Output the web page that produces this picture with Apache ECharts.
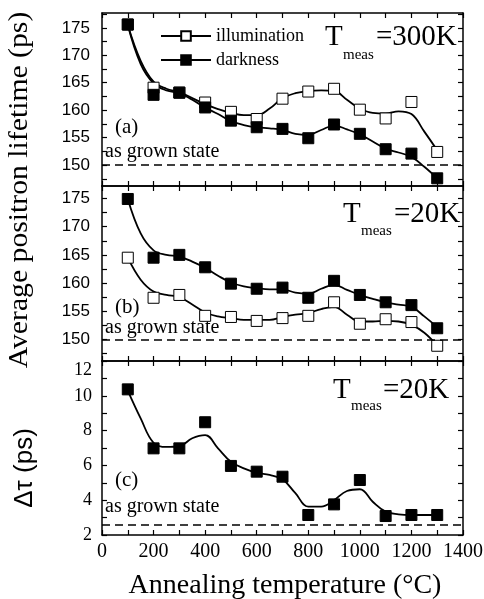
<!DOCTYPE html>
<html>
<head>
<meta charset="utf-8">
<script src="https://cdn.jsdelivr.net/npm/echarts@6/dist/echarts.min.js"></script>
<style>
  html, body { margin: 0; padding: 0; background: #fff; }
  #chart { width: 484px; height: 599px; }
</style>
</head>
<body>
<div id="chart"></div>
<script>
// measured points (annealing temperature, °C)
const temps = [100, 200, 300, 400, 500, 600, 700, 800, 900, 1000, 1100, 1200, 1300]

// (a) Tmeas = 300K
const illum300 = [175.6, 164.1, 163.2, 161.4, 159.7, 158.4, 162.1, 163.4, 163.9, 160.1, 158.5, 161.5, 152.4]
const dark300 = [175.6, 162.8, 163.2, 160.5, 158.1, 156.9, 156.6, 154.9, 157.4, 155.7, 152.9, 152.1, 147.6]
// (b) Tmeas = 20K
const illum20 = [164.5, 157.4, 157.9, 154.2, 154.0, 153.3, 153.8, 154.2, 156.6, 152.8, 153.6, 153.1, 148.9]
const dark20 = [174.9, 164.5, 165.0, 162.8, 159.9, 159.0, 159.2, 157.4, 160.4, 157.9, 156.6, 156.1, 152.0]
// (c) delta tau
const deltaTau = [10.37, 6.98, 6.98, 8.48, 5.97, 5.64, 5.35, 3.15, 3.76, 5.16, 3.09, 3.15, 3.15]

// smooth guide curves, every 50 °C
const fitTemps = [100, 150, 200, 250, 300, 350, 400, 450, 500, 550, 600, 650, 700,
  750, 800, 850, 900, 950, 1000, 1050, 1100, 1150, 1200, 1250, 1300]
const illum300Fit = [175.5, 169.0, 165.2, 163.9, 163.3, 162.2, 161.1, 160.2, 159.5, 159.1, 159.1, 160.3, 162.2,
  163.1, 163.5, 163.6, 163.5, 161.9, 160.3, 159.5, 159.4, 159.8, 159.3, 156.1, 152.7]
const dark300Fit = [175.5, 168.4, 164.9, 163.6, 163.1, 161.9, 160.5, 159.3, 158.0, 157.3, 156.9, 156.7, 156.4,
  155.7, 155.5, 156.4, 157.2, 156.5, 155.6, 154.3, 153.0, 152.3, 151.5, 149.7, 147.6]
const illum20Fit = [164.5, 160.6, 158.5, 157.9, 157.5, 156.2, 154.8, 154.1, 153.8, 153.5, 153.5, 153.5, 154.0,
  154.4, 154.7, 155.4, 155.8, 154.4, 153.2, 153.2, 153.3, 153.2, 152.6, 151.2, 148.9]
const dark20Fit = [174.9, 168.8, 165.8, 165.0, 164.7, 163.8, 162.7, 161.3, 160.1, 159.4, 159.1, 158.9, 158.9,
  158.3, 158.1, 159.0, 159.7, 158.8, 157.9, 157.2, 156.6, 156.2, 155.8, 154.1, 152.2]
const deltaTauFit = [10.3, 8.7, 7.3, 7.06, 7.1, 7.56, 7.74, 6.98, 6.21, 5.83, 5.58, 5.45, 5.2,
  4.4, 3.63, 3.63, 4.01, 4.53, 4.63, 3.91, 3.34, 3.19, 3.15, 3.15, 3.15]

// "as grown state" reference levels for (a), (b), (c)
const asGrown = [150, 150, 2.6]

// axis ticks and labels
const xTicks = [0, 100, 200, 300, 400, 500, 600, 700, 800, 900, 1000, 1100, 1200, 1300, 1400]
const xLabels = [0, 200, 400, 600, 800, 1000, 1200, 1400]
const lifetimeTicks = [147.5, 150, 152.5, 155, 157.5, 160, 162.5, 165, 167.5, 170, 172.5, 175, 177.5]
const lifetimeLabels = [150, 155, 160, 165, 170, 175]
const dtauTicks = [2, 3, 4, 5, 6, 7, 8, 9, 10, 11, 12]
const dtauLabels = [2, 4, 6, 8, 10, 12]

const SERIF = '"Liberation Serif", "Times New Roman", serif'
const SANS = '"Liberation Sans", Arial, sans-serif'

const frameLine = { color: '#000', width: 1.5 }
const tickLine = { color: '#000', width: 1.2 }

function pairs(xs, ys) {
  return xs.map((x, i) => [x, ys[i]])
}

function xAxisFor(gridIndex, position, showLabels) {
  return {
    type: 'value',
    gridIndex,
    position,
    min: 0,
    max: 1400,
    axisLine: { show: true, onZero: false, lineStyle: frameLine },
    axisTick: { show: true, inside: true, length: 5, customValues: xTicks, lineStyle: tickLine },
    axisLabel: {
      show: showLabels,
      customValues: xLabels,
      formatter: v => String(v),
      margin: 7,
      fontFamily: SERIF,
      fontSize: 20,
      color: '#000'
    },
    splitLine: { show: false }
  }
}

function yAxisFor(gridIndex, position, min, max, ticks, labels, font, showLabels) {
  const axis = {
    type: 'value',
    gridIndex,
    position,
    min,
    max,
    axisLine: { show: true, onZero: false, lineStyle: frameLine },
    axisTick: { show: true, inside: true, length: 5, customValues: ticks, lineStyle: tickLine },
    axisLabel: {
      show: showLabels,
      customValues: labels,
      formatter: v => String(v),
      margin: font === SANS ? 12 : 10,
      fontFamily: font,
      fontSize: font === SANS ? 17 : 18,
      color: '#000'
    },
    splitLine: { show: false }
  }
  // the top label of the serif panel sits just under the frame
  if (font === SERIF) axis.axisLabel.verticalAlignMaxLabel = 'top'
  return axis
}

function markStyle(open) {
  return open
    ? { color: '#fff', borderColor: '#000', borderWidth: 1, opacity: 1 }
    : { color: '#000', borderColor: '#000', borderWidth: 1, opacity: 1 }
}

function fitSeries(name, idx, values, open, baseLevel) {
  const s = {
    name,
    type: 'line',
    xAxisIndex: idx,
    yAxisIndex: idx,
    data: pairs(fitTemps, values),
    smooth: 0.4,
    showSymbol: false,
    symbol: 'rect',
    lineStyle: { color: '#000', width: 1.8 },
    itemStyle: markStyle(open),
    silent: true,
    z: 2
  }
  if (baseLevel !== undefined) {
    s.markLine = {
      silent: true,
      symbol: 'none',
      label: { show: false },
      lineStyle: { color: '#000', width: 1.5, type: [8, 5] },
      data: [{ yAxis: baseLevel }]
    }
  }
  return s
}

function pointSeries(name, idx, values, open) {
  return {
    name,
    type: 'scatter',
    xAxisIndex: idx,
    yAxisIndex: idx,
    data: pairs(temps, values),
    symbol: 'rect',
    symbolSize: 11,
    itemStyle: markStyle(open),
    emphasis: { disabled: true },
    z: 3
  }
}

function txt(text, x, y, size, family, extra) {
  return Object.assign({
    type: 'text',
    x,
    y,
    silent: true,
    style: {
      text,
      fontSize: size,
      fontFamily: family,
      fill: '#000',
      align: 'left',
      textAlign: 'left',
      verticalAlign: 'middle',
      textVerticalAlign: 'middle'
    }
  }, extra || {})
}

function centered(el) {
  el.style.align = 'center'
  el.style.textAlign = 'center'
  return el
}

const chart = echarts.init(document.getElementById('chart'), null, { renderer: 'canvas' })

const option = {
  animation: false,
  backgroundColor: '#fff',
  grid: [
    { left: 102, right: 21, top: 13, height: 173, containLabel: false, outerBoundsMode: 'none' },
    { left: 102, right: 21, top: 186, height: 175, containLabel: false, outerBoundsMode: 'none' },
    { left: 102, right: 21, top: 361, height: 174, containLabel: false, outerBoundsMode: 'none' }
  ],
  xAxis: [
    xAxisFor(0, 'bottom', false), xAxisFor(0, 'top', false),
    xAxisFor(1, 'bottom', false), xAxisFor(1, 'top', false),
    xAxisFor(2, 'bottom', true), xAxisFor(2, 'top', false)
  ],
  yAxis: [
    yAxisFor(0, 'left', 146.2, 177.7, lifetimeTicks, lifetimeLabels, SANS, true),
    yAxisFor(0, 'right', 146.2, 177.7, lifetimeTicks, lifetimeLabels, SANS, false),
    yAxisFor(1, 'left', 146.2, 177.2, lifetimeTicks, lifetimeLabels, SANS, true),
    yAxisFor(1, 'right', 146.2, 177.2, lifetimeTicks, lifetimeLabels, SANS, false),
    yAxisFor(2, 'left', 2, 12, dtauTicks, dtauLabels, SERIF, true),
    yAxisFor(2, 'right', 2, 12, dtauTicks, dtauLabels, SERIF, false)
  ],
  legend: {
    data: ['illumination', 'darkness'],
    orient: 'vertical',
    left: 160,
    top: 27,
    itemWidth: 50,
    itemHeight: 12,
    itemGap: 6,
    padding: 0,
    selectedMode: false,
    textStyle: { fontFamily: SERIF, fontSize: 18, color: '#000' }
  },
  series: [
    fitSeries('illumination', 0, illum300Fit, true),
    fitSeries('darkness', 0, dark300Fit, false, asGrown[0]),
    pointSeries('illumination (a)', 0, illum300, true),
    pointSeries('darkness (a)', 0, dark300, false),

    fitSeries('illumination (b) fit', 2, illum20Fit, true),
    fitSeries('darkness (b) fit', 2, dark20Fit, false, asGrown[1]),
    pointSeries('illumination (b)', 2, illum20, true),
    pointSeries('darkness (b)', 2, dark20, false),

    fitSeries('delta tau fit', 4, deltaTauFit, false, asGrown[2]),
    pointSeries('delta tau', 4, deltaTau, false)
  ],
  graphic: [
    // axis titles
    centered(txt('Average positron lifetime (ps)', 20, 190, 27, SERIF, { rotation: Math.PI / 2, scaleX: 1.1 })),
    centered(txt('Δτ (ps)', 25, 468, 26, SANS, { rotation: Math.PI / 2 })),
    centered(txt('Annealing temperature (°C)', 285, 586, 28, SERIF)),

    // panel (a)
    txt('T', 325, 37, 29, SERIF),
    txt('meas', 343, 55, 15, SERIF),
    txt('=300K', 376, 37, 29, SERIF),
    txt('(a)', 115, 127, 21, SERIF),
    txt('as grown state', 105, 152, 20, SERIF),

    // panel (b)
    txt('T', 343, 214, 29, SERIF),
    txt('meas', 361, 231, 15, SERIF),
    txt('=20K', 394, 214, 29, SERIF),
    txt('(b)', 115, 307, 21, SERIF),
    txt('as grown state', 105, 328, 20, SERIF),

    // panel (c)
    txt('T', 333, 390, 29, SERIF),
    txt('meas', 351, 406, 15, SERIF),
    txt('=20K', 383, 390, 29, SERIF),
    txt('(c)', 115, 480, 21, SERIF),
    txt('as grown state', 105, 507, 20, SERIF)
  ]
}

chart.setOption(option)
</script>
</body>
</html>
